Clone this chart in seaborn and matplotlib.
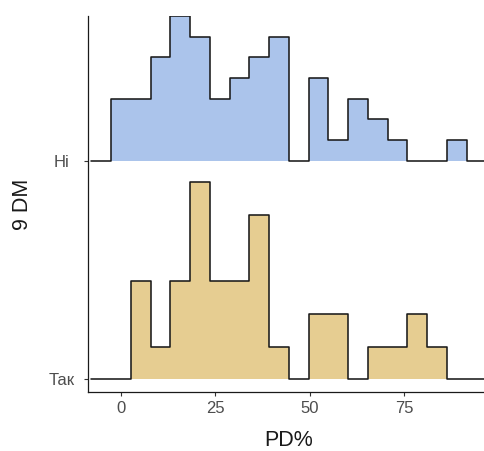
import numpy as np
import pandas as pd
import matplotlib
matplotlib.use("Agg")
import matplotlib.pyplot as plt
import seaborn as sns

# ---- data ----
groups = ["Так", "Ні"]                       # bottom -> top
counts_tak = [0, 3, 1, 3, 6, 3, 3, 5, 1, 0, 2, 2, 0, 1, 1, 2, 1, 0]
counts_ni = [3, 3, 5, 7, 6, 3, 4, 5, 6, 0, 4, 1, 3, 2, 1, 0, 0, 1]
first_edge = -2.65
bin_width = 5.237
x_ticks = [0, 25, 50, 75]
x_label = "PD%"
y_label = "9 DM"
fill_colors = {"Ні": "#abc4eb", "Так": "#e6cd91"}
ridge_scale = 0.9

counts = {"Так": counts_tak, "Ні": counts_ni}

# build long table: padded with an empty bin on either side (as ggridges binline does)
rows = []
dens = {g: np.array([0] + counts[g] + [0], float) / sum(counts[g]) for g in groups}
gmax = max(d.max() for d in dens.values())
for gi, g in enumerate(groups):
    d = dens[g]
    edges = first_edge + bin_width * (np.arange(len(d) + 1) - 1)
    h = np.append(d, d[-1]) / gmax * ridge_scale
    for x, y in zip(edges, h):
        rows.append({"x": x, "y": gi + y, "base": gi, "group": g})
df = pd.DataFrame(rows)

sns.set_theme(style="ticks")
plt.rcParams["font.family"] = ["Liberation Sans", "DejaVu Sans"]

fig = plt.figure(figsize=(4.84, 4.51), dpi=100)
ax = fig.add_axes([87.5 / 484, 59 / 451, (484 - 87.5) / 484, (392 - 16) / 451])

for g in groups[::-1]:
    sub = df[df["group"] == g]
    ax.fill_between(sub["x"], sub["base"], sub["y"], step="post",
                    color=fill_colors[g], linewidth=0, zorder=2)
    sns.lineplot(data=sub, x="x", y="y", drawstyle="steps-post", estimator=None,
                 color="#1a1a1a", linewidth=1.15, ax=ax, zorder=3, legend=False)

ax.set_xlim(-8.88, 96.21)
ax.set_ylim(-0.058, 1.661)
ax.set_xticks(x_ticks)
ax.set_xticklabels([str(t) for t in x_ticks])
ax.set_yticks(range(len(groups)))
ax.set_yticklabels(groups, ha="center")

for s in ["top", "right"]:
    ax.spines[s].set_visible(False)
for s in ["left", "bottom"]:
    ax.spines[s].set_color("#1a1a1a")
    ax.spines[s].set_linewidth(0.9)

ax.tick_params(axis="both", length=3.2, width=0.8, color="#333333",
               labelcolor="#4d4d4d", labelsize=12)
ax.tick_params(axis="x", pad=3.5)
ax.tick_params(axis="y", pad=15.5)

ax.set_xlabel(x_label, fontsize=15.5, color="#1a1a1a", va="center")
ax.set_ylabel(y_label, fontsize=15.5, color="#1a1a1a", va="center")
ax.xaxis.set_label_coords(0.5 + 3 / 396.5, -0.128)
ax.yaxis.set_label_coords((22 - 87.5) / 396.5, 0.5)
ax.grid(False)

fig.savefig("out.png", dpi=100)
